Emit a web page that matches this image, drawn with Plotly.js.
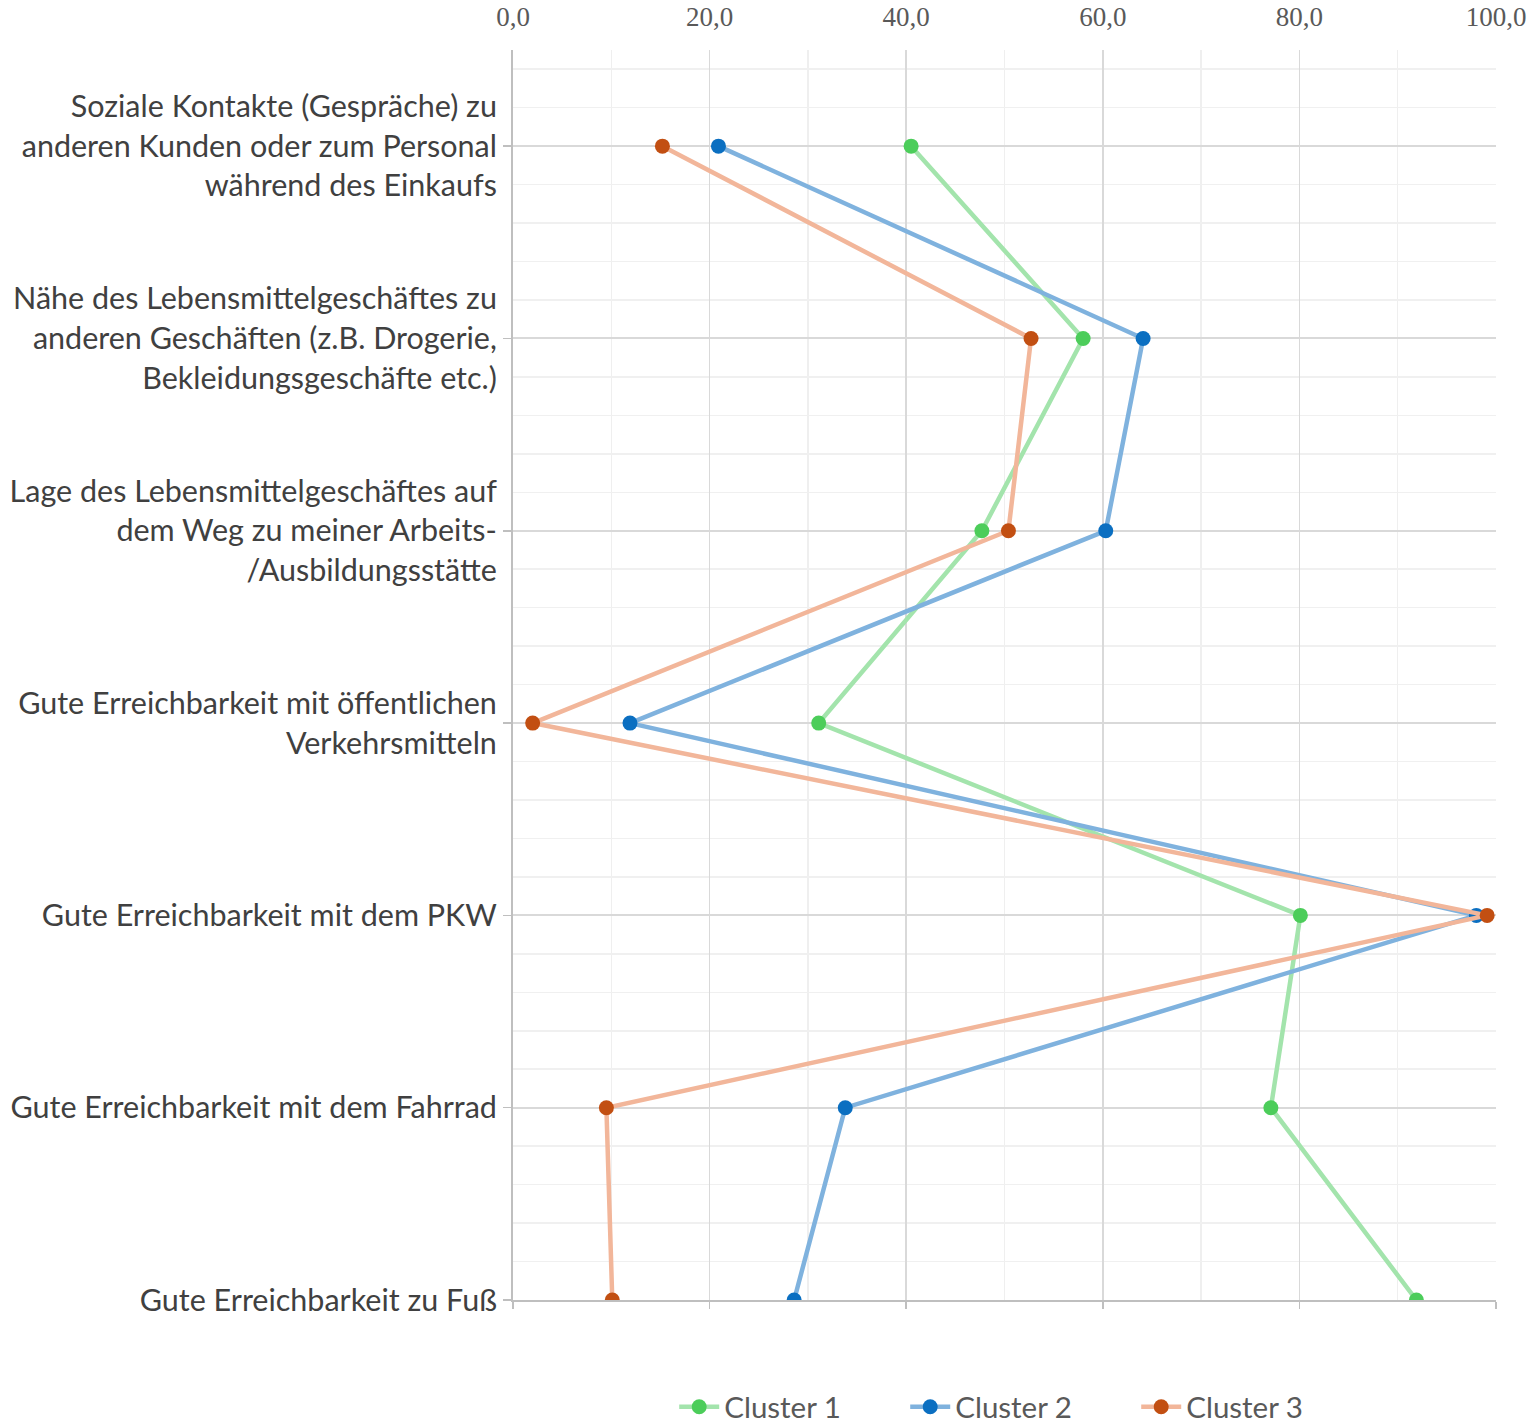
<!DOCTYPE html>
<html>
<head>
<meta charset="utf-8">
<script src="https://cdn.plot.ly/plotly-3.0.1.min.js"></script>
<style>
  html, body { margin: 0; padding: 0; background: #fff; }
  #chart { width: 1530px; height: 1427px; }
</style>
</head>
<body>
<div id="chart"></div>
<script>
// Kategorien (von oben nach unten)
var categories = [
  'Soziale Kontakte (Gespräche) zu<br>anderen Kunden oder zum Personal<br>während des Einkaufs',
  'Nähe des Lebensmittelgeschäftes zu<br>anderen Geschäften (z.B. Drogerie,<br>Bekleidungsgeschäfte etc.)',
  'Lage des Lebensmittelgeschäftes auf<br>dem Weg zu meiner Arbeits-<br>/Ausbildungsstätte',
  'Gute Erreichbarkeit mit öffentlichen<br>Verkehrsmitteln',
  'Gute Erreichbarkeit mit dem PKW',
  'Gute Erreichbarkeit mit dem Fahrrad',
  'Gute Erreichbarkeit zu Fuß'
];
var catPos = categories.map(function (c, i) { return i; });

var cluster1 = [40.5, 58.0, 47.7, 31.1, 80.1, 77.1, 91.9];
var cluster2 = [20.9, 64.1, 60.3, 11.9, 98.0, 33.8, 28.6];
var cluster3 = [15.2, 52.7, 50.4, 2.0, 99.1, 9.5, 10.1];

var xTicks = [0, 20, 40, 60, 80, 100];

function drawChart() {
  function trace(vals, name, lineColor, markerColor) {
    return {
      x: vals,
      y: catPos,
      name: name,
      type: 'scatter',
      mode: 'lines+markers',
      line: { color: lineColor, width: 4.5 },
      marker: { color: markerColor, size: 15 },
      hoverinfo: 'skip'
    };
  }

  var data = [
    trace(cluster1, 'Cluster 1', '#a3e4ac', '#4ccd5a'),
    trace(cluster2, 'Cluster 2', '#7fb2de', '#0b6fc1'),
    trace(cluster3, 'Cluster 3', '#f2b69a', '#c24f12'),
    // leere Spur, damit die untere Achse (nur Linie + Striche) gezeichnet wird
    { x: [], y: [], xaxis: 'x2', type: 'scatter', showlegend: false, hoverinfo: 'skip' }
  ];

  var layout = {
    width: 1530,
    height: 1427,
    margin: { l: 513, r: 34, t: 50, b: 127, autoexpand: false },
    paper_bgcolor: '#ffffff',
    plot_bgcolor: '#ffffff',
    separators: ',.',
    showlegend: true,
    legend: {
      orientation: 'h',
      xref: 'paper',
      x: 0.164, xanchor: 'left',
      yref: 'container',
      y: 0.014, yanchor: 'middle',
      font: { family: 'Lato, sans-serif', size: 29.5, color: '#595959' },
      itemwidth: 40,
      entrywidth: 176,
      traceorder: 'normal'
    },
    xaxis: {
      side: 'top',
      range: [0, 100],
      tickvals: xTicks,
      tickformat: '.1f',
      tickfont: { family: 'Liberation Serif, serif', size: 27, color: '#595959' },
      ticks: 'outside',
      ticklen: 12,
      tickcolor: 'rgba(0,0,0,0)',
      showline: false,
      zeroline: false,
      showgrid: true,
      gridcolor: '#d9d9d9',
      gridwidth: 1.5,
      minor: { dtick: 10, tick0: 0, showgrid: true, gridcolor: '#efefef', gridwidth: 1.5 },
      fixedrange: true
    },
    xaxis2: {
      overlaying: 'x',
      side: 'bottom',
      anchor: 'y',
      range: [0, 100],
      tickvals: xTicks,
      showticklabels: false,
      ticks: 'outside',
      ticklen: 7,
      tickwidth: 1.5,
      tickcolor: '#bfbfbf',
      showline: true,
      linecolor: '#bfbfbf',
      linewidth: 2,
      showgrid: false,
      zeroline: false,
      fixedrange: true
    },
    yaxis: {
      range: [6, -0.5],
      tickvals: catPos,
      ticktext: categories,
      tickfont: { family: 'Lato, sans-serif', size: 30.5, color: '#404040' },
      ticks: 'outside',
      ticklen: 8,
      tickwidth: 1.5,
      tickcolor: '#bfbfbf',
      showline: true,
      linecolor: '#bfbfbf',
      linewidth: 2,
      zeroline: false,
      showgrid: true,
      gridcolor: '#d9d9d9',
      gridwidth: 2,
      minor: { dtick: 0.2, tick0: 0, showgrid: true, gridcolor: '#f0f0f0', gridwidth: 1.5 },
      fixedrange: true
    }
  };

  Plotly.newPlot('chart', data, layout, { displayModeBar: false, staticPlot: true });
}

drawChart();
</script>
</body>
</html>
